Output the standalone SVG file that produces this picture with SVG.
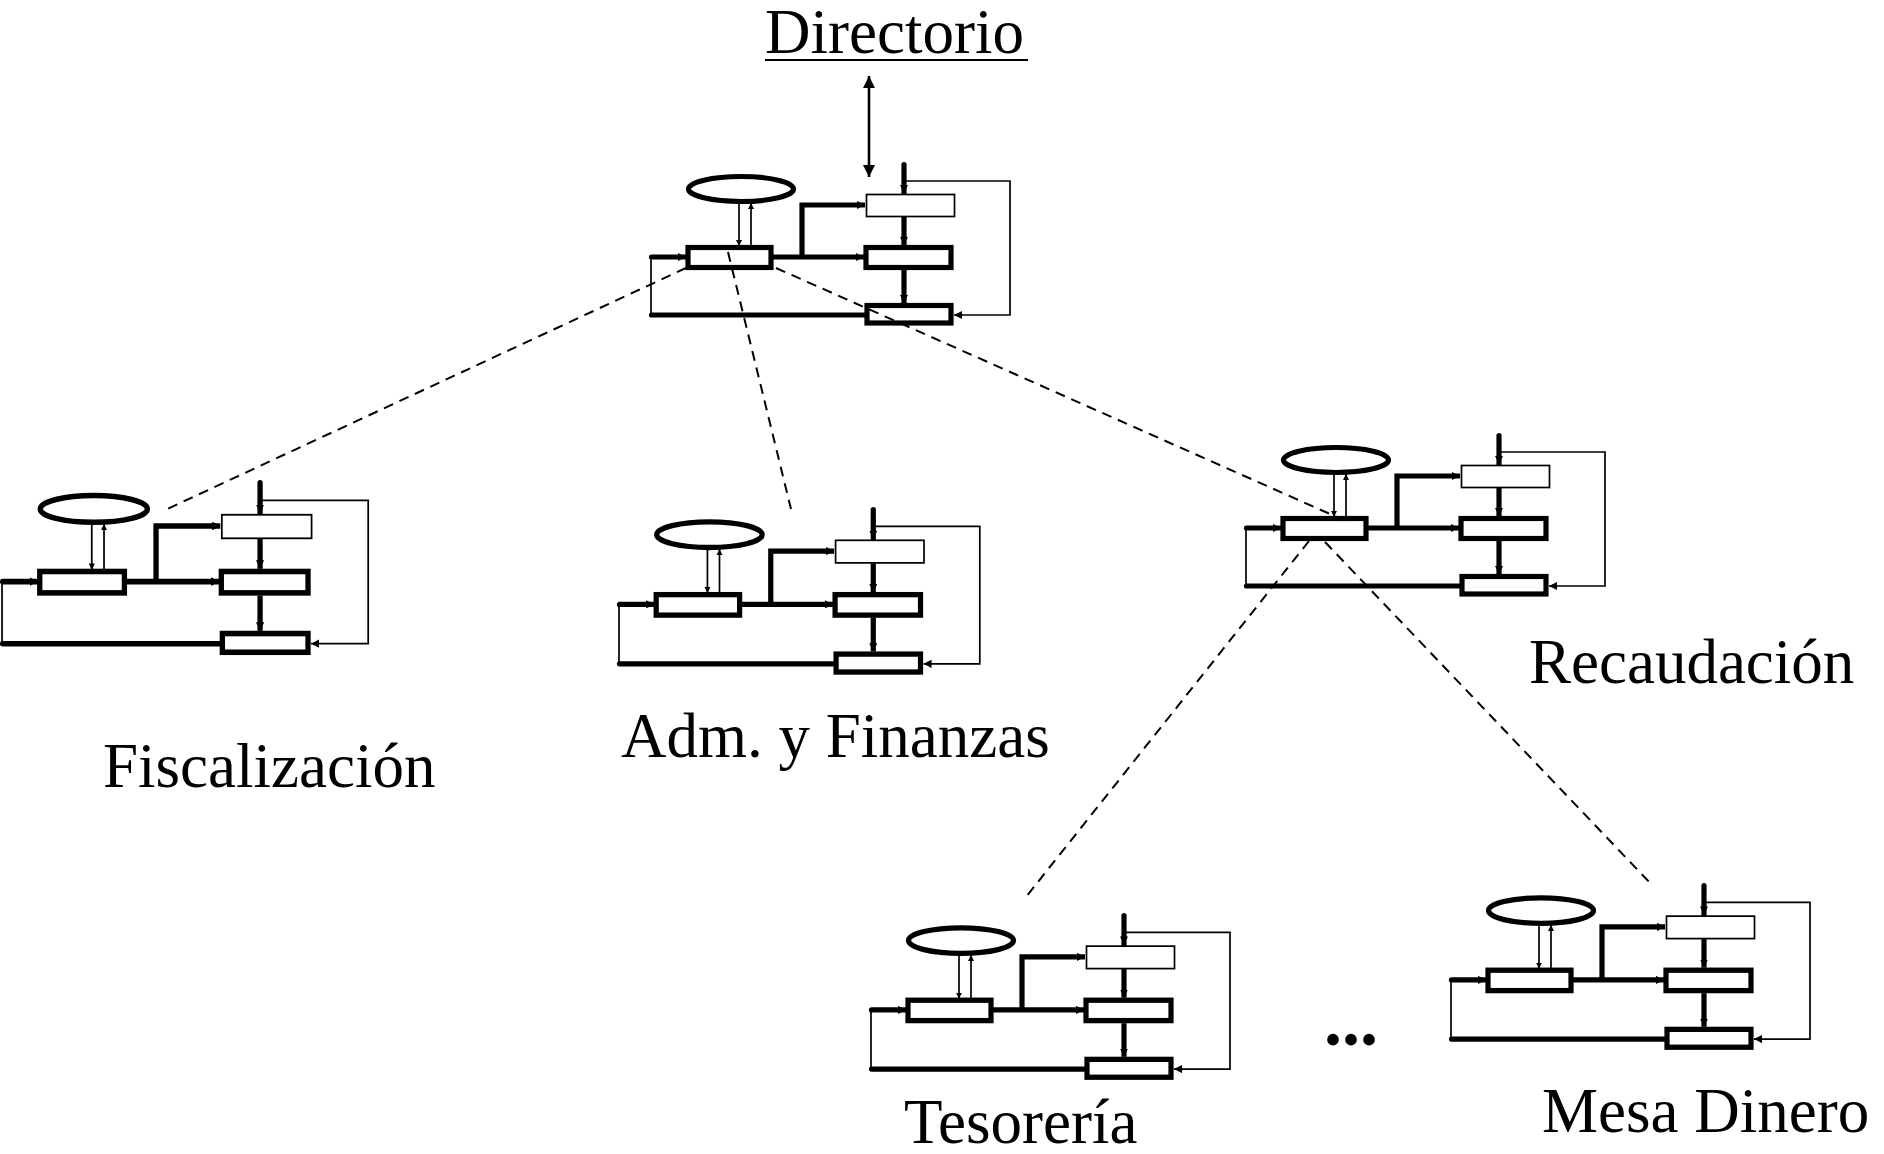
<svg xmlns="http://www.w3.org/2000/svg" xmlns:xlink="http://www.w3.org/1999/xlink" width="1884" height="1154" viewBox="0 0 1884 1154">
<style>
.thk{fill:none;stroke:#000;stroke-width:5.2}
.thn{fill:none;stroke:#000;stroke-width:1.7}
.box{fill:#fff;stroke:#000;stroke-width:5.2}
.boxt{fill:#fff;stroke:#000;stroke-width:1.7}
.rc{stroke-linecap:round}
.dash{fill:none;stroke:#000;stroke-width:2;stroke-dasharray:10 7}
.lbl{font-family:"Liberation Serif","Times New Roman",serif;font-size:63px;fill:#000}
</style>
<defs>
<marker id="ah" viewBox="0 0 10 10" refX="10" refY="5" markerWidth="8" markerHeight="8" markerUnits="userSpaceOnUse" orient="auto"><path d="M0,0 L10,5 L0,10 z"/></marker>
<marker id="as" viewBox="0 0 10 10" refX="10" refY="5" markerWidth="6" markerHeight="6" markerUnits="userSpaceOnUse" orient="auto"><path d="M0,0 L10,5 L0,10 z"/></marker>
<marker id="ab" viewBox="0 0 10 10" refX="10" refY="5" markerWidth="14" markerHeight="12" markerUnits="userSpaceOnUse" orient="auto-start-reverse"><path d="M0,0 L10,5 L0,10 z"/></marker>
<g id="mod">
<path class="thk rc" d="M214,153 H1.5"/>
<path class="thn" d="M1,153 V95"/>
<path class="thk rc" d="M1.5,95 H36" marker-end="url(#ah)"/>
<ellipse class="thk" cx="91" cy="27" rx="52.5" ry="12.5"/>
<line class="thn" x1="89" y1="41" x2="89" y2="84" marker-end="url(#as)"/>
<line class="thn" x1="101" y1="84" x2="101" y2="41" marker-end="url(#as)"/>
<rect class="box" x="38" y="85.5" width="83" height="20"/>
<path class="thk" d="M123,95 H214" marker-end="url(#ah)"/>
<path class="thk" d="M152,95 V43 H215" marker-end="url(#ah)"/>
<line class="thk rc" x1="254" y1="2.5" x2="254" y2="31" marker-end="url(#ah)"/>
<path class="thn" d="M256,19 H360 V153 H304" marker-end="url(#ah)"/>
<rect class="boxt" x="216.5" y="32.5" width="88" height="22"/>
<line class="thk" x1="254" y1="55" x2="254" y2="83" marker-end="url(#ah)"/>
<rect class="box" x="216" y="85.5" width="85" height="20"/>
<line class="thk" x1="254" y1="108" x2="254" y2="141" marker-end="url(#ah)"/>
<rect class="box" x="217" y="143.5" width="84" height="17.5"/>
</g>
</defs>

<g id="node-directorio">
<use xlink:href="#mod" transform="translate(650,162)"/>
<text class="lbl" x="765" y="53">Directorio</text>
<line x1="765" y1="60" x2="1028" y2="60" stroke="#000" stroke-width="2.2"/>
</g>

<g id="node-fiscalizacion">
<use xlink:href="#mod" transform="translate(1,480) scale(1.02,1.07)"/>
<text class="lbl" x="103" y="787">Fiscalización</text>
</g>

<g id="node-adm">
<use xlink:href="#mod" transform="translate(618,507) scale(1.005,1.025)"/>
<text class="lbl" x="621" y="757">Adm. y Finanzas</text>
</g>

<g id="node-recaudacion">
<use xlink:href="#mod" transform="translate(1245,433)"/>
<text class="lbl" x="1529" y="683">Recaudación</text>
</g>

<g id="node-tesoreria">
<use xlink:href="#mod" transform="translate(870,913) scale(1,1.02)"/>
<text class="lbl" x="904" y="1143">Tesorería</text>
</g>

<g id="node-mesa">
<use xlink:href="#mod" transform="translate(1450,883) scale(1,1.02)"/>
<text class="lbl" x="1542" y="1132">Mesa Dinero</text>
</g>

<g id="ellipsis">
<text x="1324" y="1045" style="font-family:'Liberation Serif',serif;font-size:72px;font-weight:bold">...</text>
</g>

<g id="connectors">
<line class="dash" x1="686" y1="268" x2="163" y2="511"/>
<line class="dash" x1="728" y1="252" x2="791" y2="509"/>
<line class="dash" x1="776" y1="268" x2="1348" y2="522"/>
<line class="dash" x1="1309" y1="541" x2="1026" y2="897"/>
<line class="dash" x1="1325" y1="542" x2="1653" y2="886"/>
<line x1="869" y1="76" x2="869" y2="177" stroke="#000" stroke-width="2.6" marker-start="url(#ab)" marker-end="url(#ab)"/>
</g>
</svg>
